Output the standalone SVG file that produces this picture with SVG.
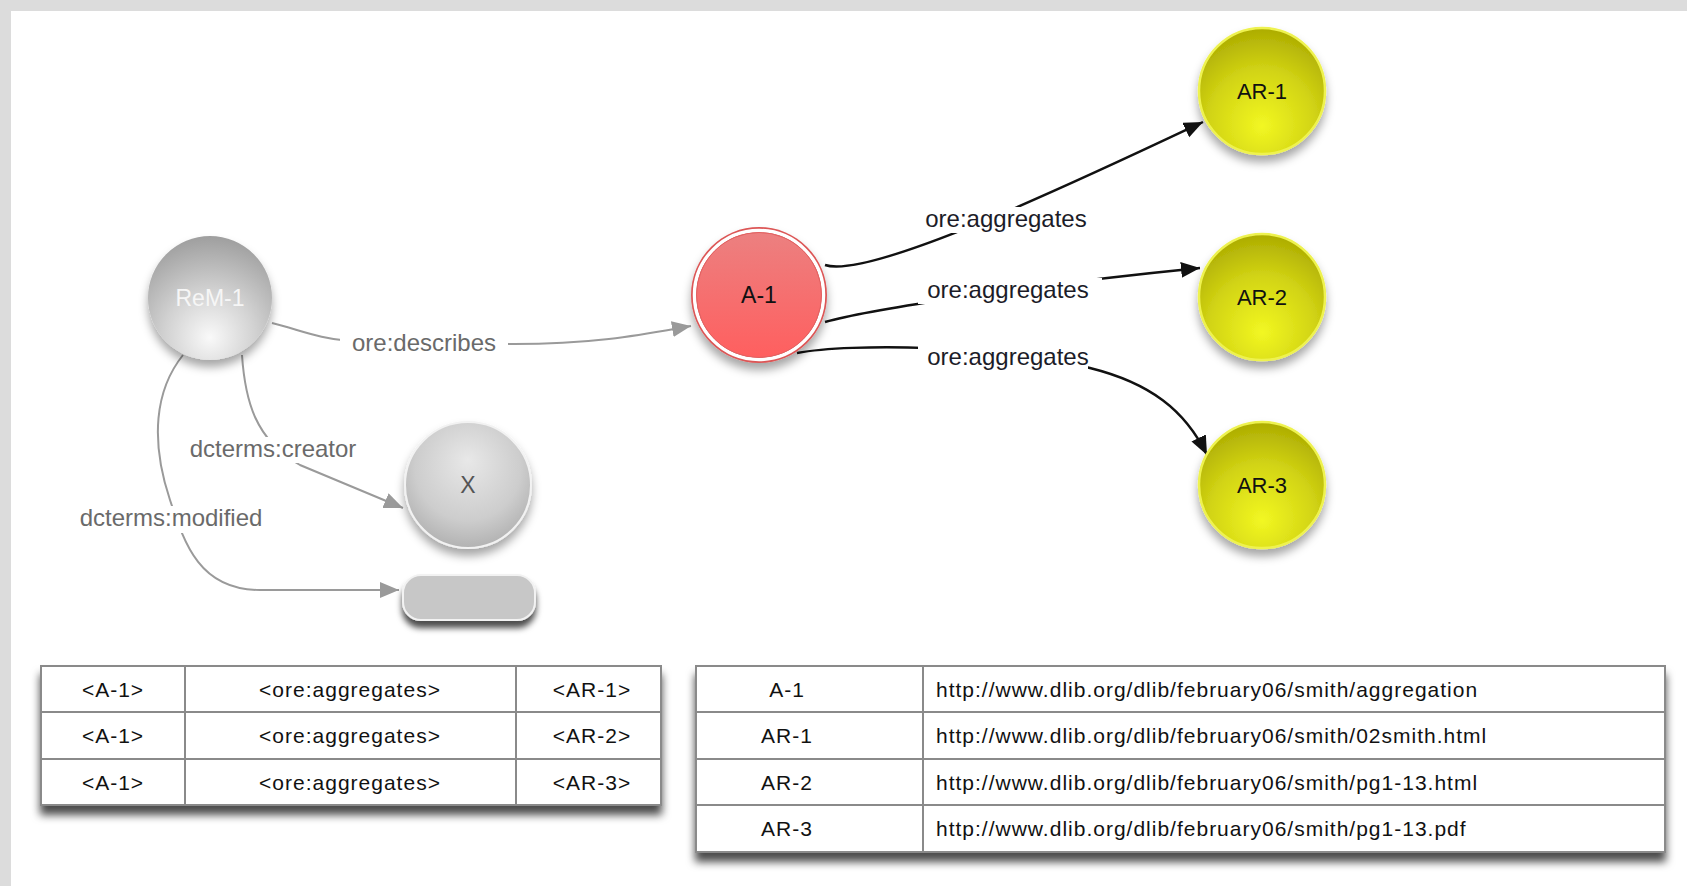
<svg xmlns="http://www.w3.org/2000/svg" width="1687" height="886" viewBox="0 0 1687 886">
<defs>
<style>
.lbl{font-family:"Liberation Sans",Arial,sans-serif;font-size:24px;text-anchor:middle}
.glbl{fill:#6a6a6a}
.blbl{fill:#1c1c28}
.lbg{fill:#ffffff}
.gedge{fill:none;stroke:#9a9a9a;stroke-width:2}
.bedge{fill:none;stroke:#111111;stroke-width:2.4}
.ntxt{font-family:"Liberation Sans",Arial,sans-serif;font-size:22px;text-anchor:middle;fill:#111}
.ttxt{font-family:"Liberation Sans",Arial,sans-serif;font-size:21px;letter-spacing:1px;fill:#111}
.tbl{fill:#ffffff;stroke:#8a8a8a;stroke-width:2}
.tln{stroke:#8a8a8a;stroke-width:2}
</style>
<radialGradient id="gGray" cx="0.5" cy="0.78" r="0.8" fx="0.5" fy="0.82">
<stop offset="0" stop-color="#f9f9f9"/>
<stop offset="0.45" stop-color="#d2d2d2"/>
<stop offset="1" stop-color="#9c9c9c"/>
</radialGradient>
<radialGradient id="gGrayX" cx="0.5" cy="0.4" r="0.7" fx="0.5" fy="0.3">
<stop offset="0" stop-color="#e8e8e8"/>
<stop offset="0.6" stop-color="#cdcdcd"/>
<stop offset="1" stop-color="#a6a6a6"/>
</radialGradient>
<radialGradient id="gYel" cx="0.5" cy="0.72" r="0.75" fx="0.5" fy="0.78">
<stop offset="0" stop-color="#f2f722"/>
<stop offset="0.55" stop-color="#d2d414"/>
<stop offset="1" stop-color="#a9a800"/>
</radialGradient>
<linearGradient id="gRed" x1="0" y1="0" x2="0" y2="1">
<stop offset="0" stop-color="#ec8080"/>
<stop offset="1" stop-color="#ff5f5f"/>
</linearGradient>
<filter id="shC" x="-30%" y="-30%" width="160%" height="170%">
<feDropShadow dx="0" dy="7" stdDeviation="5" flood-color="#000" flood-opacity="0.35"/>
</filter>
<filter id="shR" x="-20%" y="-30%" width="140%" height="190%">
<feDropShadow dx="0" dy="7" stdDeviation="3" flood-color="#000" flood-opacity="0.7"/>
</filter>
<filter id="shT" x="-5%" y="-10%" width="110%" height="130%">
<feDropShadow dx="0" dy="9" stdDeviation="4.5" flood-color="#000" flood-opacity="0.7"/>
</filter>
<marker id="ag" markerUnits="userSpaceOnUse" markerWidth="22" markerHeight="18" refX="19" refY="8" orient="auto">
<path d="M0,0 L19,8 L0,16 z" fill="#9a9a9a"/>
</marker>
<marker id="ab" markerUnits="userSpaceOnUse" markerWidth="22" markerHeight="18" refX="19" refY="8" orient="auto">
<path d="M0,0 L19,8 L0,16 z" fill="#111111"/>
</marker>
</defs>

<rect x="0" y="0" width="1687" height="886" fill="#ffffff"/>
<rect x="0" y="0" width="1687" height="11" fill="#dcdcdc"/>
<rect x="0" y="0" width="11" height="886" fill="#dcdcdc"/>

<g id="connectors">
<path class="gedge" d="M272,323 C300,330 320,339 350,341 L514,344 C600,344 650,333 691,326" marker-end="url(#ag)"/>
<path class="gedge" d="M242,355 C245,400 255,440 300,465 L403,508" marker-end="url(#ag)"/>
<path class="gedge" d="M183,355 C155,390 150,440 170,500 C185,545 200,590 260,590 L399,590" marker-end="url(#ag)"/>
<path class="bedge" d="M825,265 C870,280 1080,180 1203,122" marker-end="url(#ab)"/>
<path class="bedge" d="M825,322 C860,312 1000,288 1200,268" marker-end="url(#ab)"/>
<path class="bedge" d="M797,353 C850,343 1000,345 1090,368 C1150,383 1185,410 1207,455" marker-end="url(#ab)"/>

<rect class="lbg" x="340" y="330" width="168" height="27"/>
<text class="lbl glbl" x="424" y="351">ore:describes</text>
<rect class="lbg" x="185" y="437" width="177" height="26"/>
<text class="lbl glbl" x="273" y="457">dcterms:creator</text>
<rect class="lbg" x="75" y="506" width="192" height="27"/>
<text class="lbl glbl" x="171" y="526">dcterms:modified</text>
<rect class="lbg" x="920" y="207" width="172" height="26"/>
<text class="lbl blbl" x="1006" y="227">ore:aggregates</text>
<rect class="lbg" x="918" y="278" width="184" height="26"/>
<text class="lbl blbl" x="1008" y="298">ore:aggregates</text>
<rect class="lbg" x="918" y="345" width="170" height="26"/>
<text class="lbl blbl" x="1008" y="365">ore:aggregates</text>
</g>

<g id="node-rem1">
<circle cx="210" cy="298" r="62" fill="url(#gGray)" filter="url(#shC)"/>
<text class="ntxt" x="210" y="306" style="fill:#f6f6f6;font-size:23px">ReM-1</text>
</g>

<g id="node-x">
<circle cx="468" cy="485" r="63" fill="url(#gGrayX)" stroke="#f2f2f2" stroke-width="2" filter="url(#shC)"/>
<text class="ntxt" x="468" y="493" style="fill:#555;font-size:23px">X</text>
</g>

<g id="node-date">
<rect x="403" y="575" width="132" height="45" rx="18" ry="18" fill="#c7c7c7" stroke="#f2f2f2" stroke-width="2" filter="url(#shR)"/>
</g>

<g id="node-a1">
<circle cx="759" cy="295" r="68" fill="#dc5656" filter="url(#shC)"/>
<circle cx="759" cy="295" r="64.5" fill="none" stroke="#ffffff" stroke-width="3.5"/>
<circle cx="759" cy="295" r="62.5" fill="url(#gRed)" stroke="#e26262" stroke-width="1"/>
<text class="ntxt" x="759" y="303" style="font-size:23px">A-1</text>
</g>

<g id="node-ar1">
<circle cx="1262" cy="91" r="63" fill="url(#gYel)" stroke="#eef250" stroke-width="2.5" filter="url(#shC)"/>
<text class="ntxt" x="1262" y="99">AR-1</text>
</g>

<g id="node-ar2">
<circle cx="1262" cy="297" r="63" fill="url(#gYel)" stroke="#eef250" stroke-width="2.5" filter="url(#shC)"/>
<text class="ntxt" x="1262" y="305">AR-2</text>
</g>

<g id="node-ar3">
<circle cx="1262" cy="485" r="63" fill="url(#gYel)" stroke="#eef250" stroke-width="2.5" filter="url(#shC)"/>
<text class="ntxt" x="1262" y="493">AR-3</text>
</g>

<g id="table-triples">
<rect class="tbl" x="41" y="666" width="620" height="139" filter="url(#shT)"/>
<line class="tln" x1="41" y1="712" x2="661" y2="712"/>
<line class="tln" x1="41" y1="759" x2="661" y2="759"/>
<line class="tln" x1="185" y1="666" x2="185" y2="805"/>
<line class="tln" x1="516" y1="666" x2="516" y2="805"/>
<g text-anchor="middle">
<text class="ttxt" x="113" y="697">&lt;A-1&gt;</text>
<text class="ttxt" x="350" y="697">&lt;ore:aggregates&gt;</text>
<text class="ttxt" x="592" y="697">&lt;AR-1&gt;</text>
<text class="ttxt" x="113" y="743">&lt;A-1&gt;</text>
<text class="ttxt" x="350" y="743">&lt;ore:aggregates&gt;</text>
<text class="ttxt" x="592" y="743">&lt;AR-2&gt;</text>
<text class="ttxt" x="113" y="790">&lt;A-1&gt;</text>
<text class="ttxt" x="350" y="790">&lt;ore:aggregates&gt;</text>
<text class="ttxt" x="592" y="790">&lt;AR-3&gt;</text>
</g>
</g>

<g id="table-uris">
<rect class="tbl" x="696" y="666" width="969" height="186" filter="url(#shT)"/>
<line class="tln" x1="696" y1="712" x2="1665" y2="712"/>
<line class="tln" x1="696" y1="759" x2="1665" y2="759"/>
<line class="tln" x1="696" y1="805" x2="1665" y2="805"/>
<line class="tln" x1="923" y1="666" x2="923" y2="852"/>
<g text-anchor="middle">
<text class="ttxt" x="787" y="697">A-1</text>
<text class="ttxt" x="787" y="743">AR-1</text>
<text class="ttxt" x="787" y="790">AR-2</text>
<text class="ttxt" x="787" y="836">AR-3</text>
</g>
<text class="ttxt" x="936" y="697">http://www.dlib.org/dlib/february06/smith/aggregation</text>
<text class="ttxt" x="936" y="743">http://www.dlib.org/dlib/february06/smith/02smith.html</text>
<text class="ttxt" x="936" y="790">http://www.dlib.org/dlib/february06/smith/pg1-13.html</text>
<text class="ttxt" x="936" y="836">http://www.dlib.org/dlib/february06/smith/pg1-13.pdf</text>
</g>
</svg>
